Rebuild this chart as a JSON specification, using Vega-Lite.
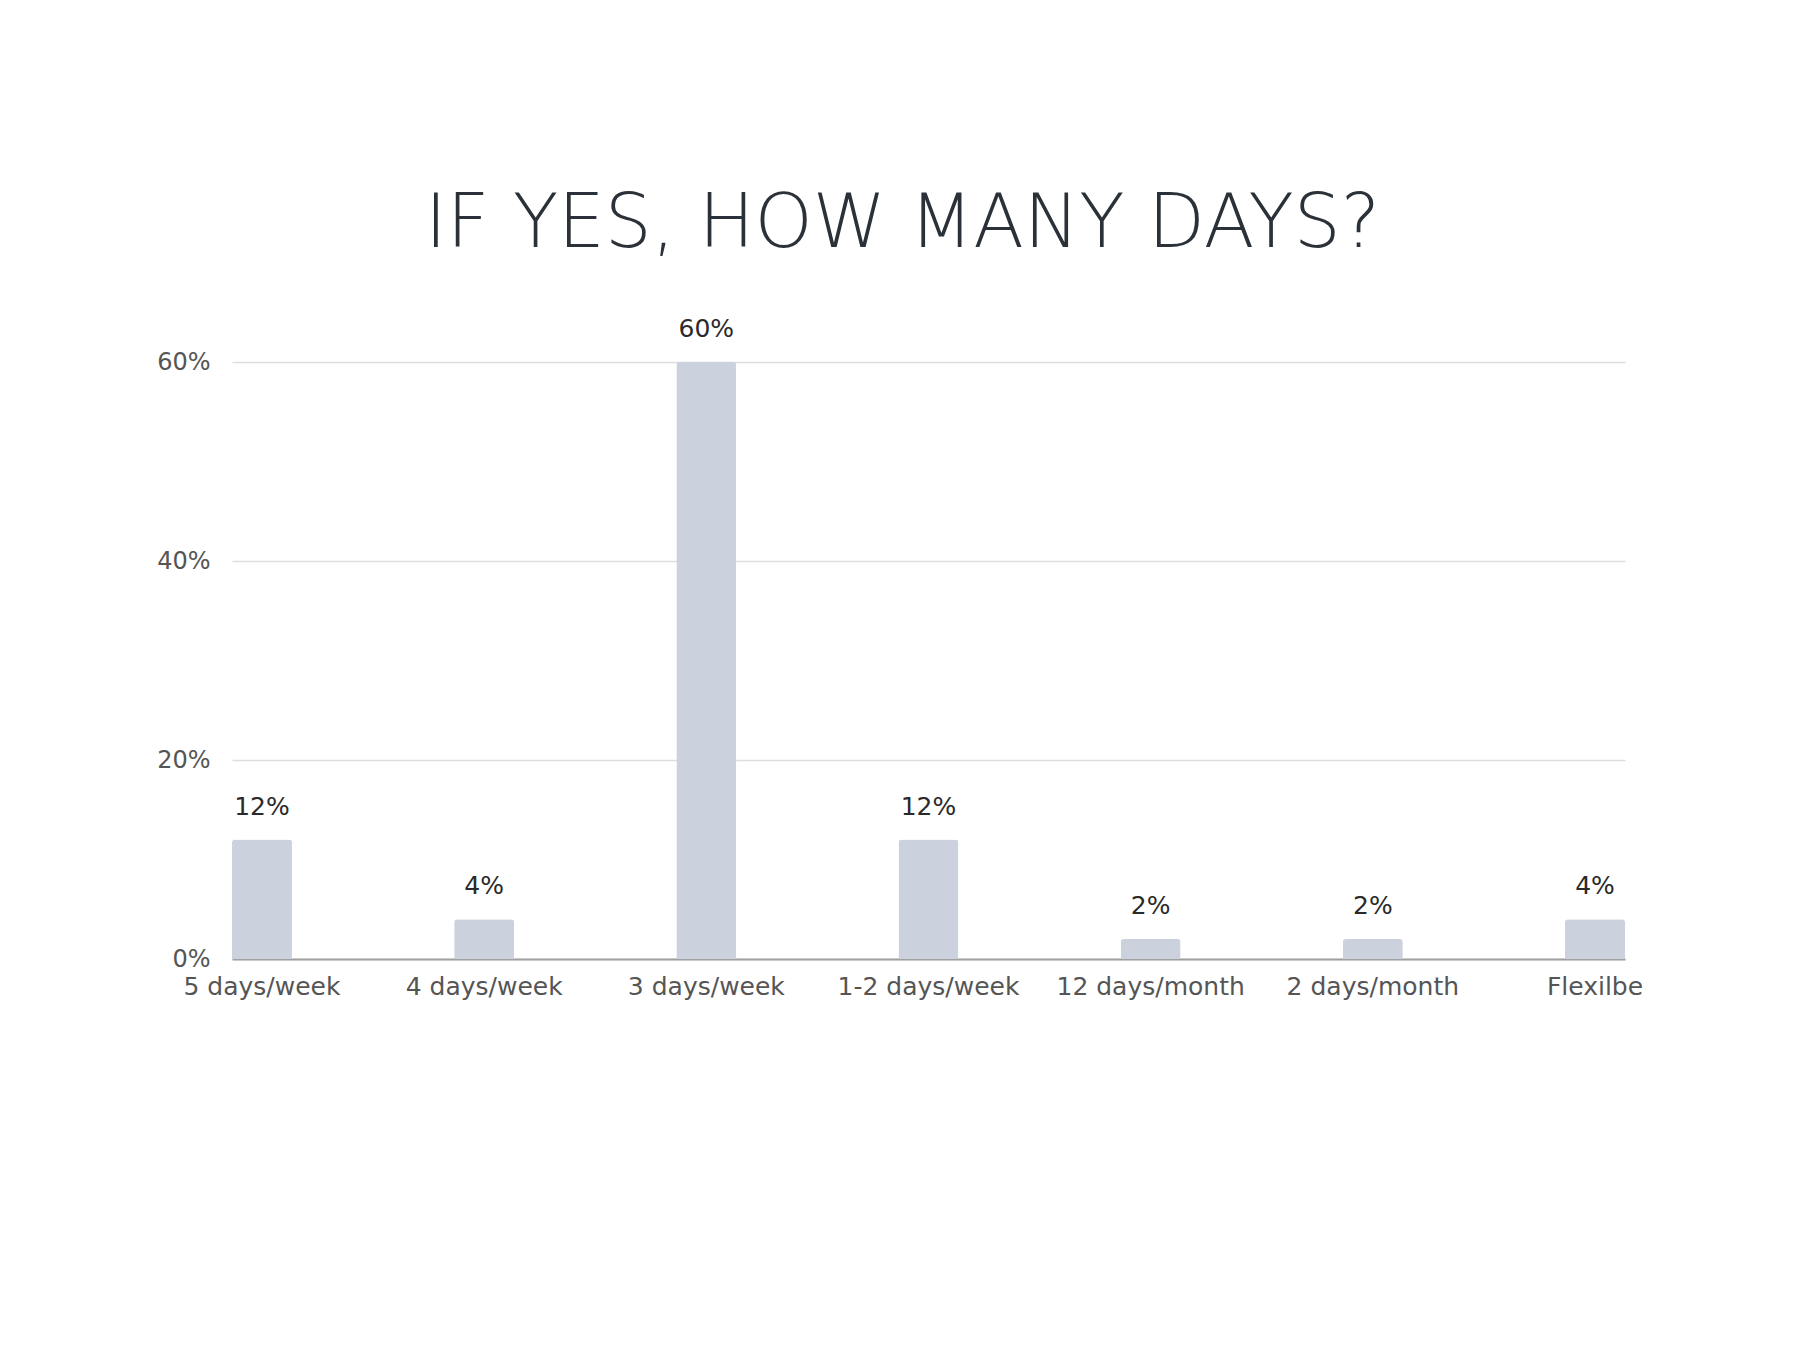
{
  "$schema": "https://vega.github.io/schema/vega-lite/v6.json",
  "width": 1393,
  "height": 597,
  "autosize": {"type": "none"},
  "padding": {"left": 232, "top": 362, "right": 175, "bottom": 391},
  "background": "#ffffff",
  "title": {
    "text": "IF YES, HOW MANY DAYS?",
    "anchor": "middle",
    "dx": -26,
    "offset": -20,
    "font": "DejaVu Sans",
    "fontSize": 74,
    "fontWeight": 200,
    "color": "#2b3138",
    "baseline": "bottom"
  },
  "data": {
    "values": [
      {"category": "5 days/week", "value": 12, "label": "12%"},
      {"category": "4 days/week", "value": 4, "label": "4%"},
      {"category": "3 days/week", "value": 60, "label": "60%"},
      {"category": "1-2 days/week", "value": 12, "label": "12%"},
      {"category": "12 days/month", "value": 2, "label": "2%"},
      {"category": "2 days/month", "value": 2, "label": "2%"},
      {"category": "Flexilbe", "value": 4, "label": "4%"}
    ]
  },
  "encoding": {
    "x": {
      "field": "category",
      "type": "nominal",
      "sort": null,
      "scale": {"paddingInner": 0.73, "paddingOuter": 0},
      "axis": {
        "title": null,
        "labelAngle": 0,
        "ticks": false,
        "domainColor": "#a0a0a0",
        "domainWidth": 2,
        "labelFont": "DejaVu Sans",
        "labelFontSize": 25,
        "labelColor": "#555555",
        "labelPadding": 15,
        "labelBaseline": "top",
        "labelOverlap": false,
        "labelLimit": 400
      }
    },
    "y": {
      "field": "value",
      "type": "quantitative",
      "scale": {"domain": [0, 60], "nice": false},
      "axis": {
        "title": null,
        "values": [0, 20, 40, 60],
        "labelExpr": "datum.value + '%'",
        "domain": false,
        "ticks": false,
        "gridColor": "#dedede",
        "gridWidth": 1.5,
        "labelFont": "DejaVu Sans",
        "labelFontSize": 24,
        "labelColor": "#555555",
        "labelPadding": 22
      }
    }
  },
  "layer": [
    {
      "mark": {"type": "bar", "color": "#cbd2dd", "cornerRadiusTopLeft": 3, "cornerRadiusTopRight": 3}
    },
    {
      "mark": {"type": "text", "baseline": "bottom", "dy": -20, "font": "DejaVu Sans", "fontSize": 25, "color": "#2a2a2a"},
      "encoding": {"text": {"field": "label"}}
    }
  ],
  "config": {"view": {"stroke": null}}
}
